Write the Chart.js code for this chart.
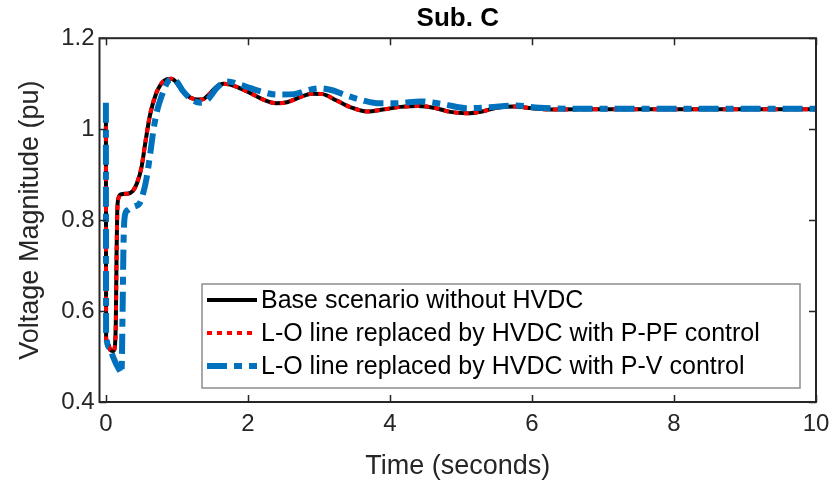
<!DOCTYPE html>
<html>
<head>
<meta charset="utf-8">
<script src="https://cdn.jsdelivr.net/npm/chart.js@4/dist/chart.umd.min.js"></script>
<style>
html,body{margin:0;padding:0;background:#fff;}
#wrap{position:relative;width:832px;height:483px;}
</style>
</head>
<body>
<div id="wrap"><canvas id="c" width="832" height="483"></canvas></div>
<script>
// ---- data ----
const chartTitle = "Sub. C";
const xAxisTitle = "Time (seconds)";
const yAxisTitle = "Voltage Magnitude (pu)";
const seriesLabels = [
  "Base scenario without HVDC",
  "L-O line replaced by HVDC with P-PF control",
  "L-O line replaced by HVDC with P-V control"
];
const xTickValues = [0, 2, 4, 6, 8, 10];
const xTickLabels = ["0", "2", "4", "6", "8", "10"];
const yTickValues = [0.4, 0.6, 0.8, 1.0, 1.2];
const yTickLabels = ["0.4", "0.6", "0.8", "1", "1.2"];

const timeBase = [0, 0.003, 0.03, 0.06, 0.1, 0.125, 0.14, 0.15, 0.16, 0.18, 0.22, 0.3, 0.38, 0.44, 0.5, 0.56, 0.62, 0.7, 0.78, 0.86, 0.92, 0.98, 1.06, 1.15, 1.25, 1.35, 1.45, 1.55, 1.65, 1.75, 1.9, 2.05, 2.2, 2.4, 2.55, 2.7, 2.9, 3.05, 3.25, 3.45, 3.68, 3.9, 4.15, 4.4, 4.65, 4.85, 5.08, 5.3, 5.5, 5.75, 6.0, 6.3, 7, 8, 9, 10];
const voltBase = [1.05, 0.54, 0.528, 0.515, 0.512, 0.52, 0.58, 0.72, 0.82, 0.85, 0.857, 0.858, 0.864, 0.882, 0.915, 0.975, 1.03, 1.075, 1.1, 1.11, 1.111, 1.105, 1.088, 1.073, 1.066, 1.065, 1.076, 1.092, 1.1, 1.098, 1.089, 1.078, 1.066, 1.057, 1.059, 1.068, 1.078, 1.077, 1.063, 1.048, 1.039, 1.043, 1.049, 1.051, 1.046, 1.038, 1.035, 1.039, 1.047, 1.05, 1.046, 1.043, 1.044, 1.044, 1.044, 1.044];
const voltPPF  = [1.05, 0.54, 0.527, 0.514, 0.511, 0.52, 0.57, 0.71, 0.815, 0.849, 0.857, 0.858, 0.864, 0.883, 0.916, 0.976, 1.031, 1.076, 1.1, 1.11, 1.111, 1.105, 1.088, 1.073, 1.066, 1.065, 1.076, 1.092, 1.1, 1.098, 1.089, 1.078, 1.066, 1.057, 1.059, 1.068, 1.078, 1.077, 1.063, 1.048, 1.039, 1.043, 1.049, 1.051, 1.046, 1.038, 1.035, 1.039, 1.047, 1.05, 1.046, 1.043, 1.044, 1.044, 1.044, 1.044];

const timePV = [0, 0.003, 0.05, 0.1, 0.15, 0.2, 0.22, 0.235, 0.25, 0.27, 0.31, 0.36, 0.42, 0.48, 0.53, 0.57, 0.61, 0.67, 0.72, 0.79, 0.87, 0.94, 1.0, 1.08, 1.17, 1.27, 1.35, 1.45, 1.57, 1.71, 1.85, 2.04, 2.2, 2.41, 2.65, 2.85, 3.02, 3.2, 3.35, 3.6, 3.82, 4.1, 4.43, 4.75, 5.09, 5.4, 5.75, 6.1, 6.5, 7, 8, 9, 10];
const voltPV = [1.058, 0.55, 0.52, 0.5, 0.482, 0.468, 0.463, 0.6, 0.76, 0.812, 0.822, 0.828, 0.831, 0.838, 0.862, 0.89, 0.93, 0.998, 1.04, 1.075, 1.104, 1.11, 1.104, 1.085, 1.07, 1.06, 1.058, 1.068, 1.092, 1.105, 1.1, 1.09, 1.082, 1.076, 1.077, 1.086, 1.09, 1.085, 1.076, 1.064, 1.057, 1.057, 1.061, 1.055, 1.046, 1.048, 1.052, 1.047, 1.045, 1.045, 1.045, 1.045, 1.045];

const xMin = -0.09, xMax = 10, yMin = 0.4, yMax = 1.2;

// ---- build ----
const toPts = (xs, ys) => xs.map((x, i) => ({x: x, y: ys[i]}));
const AXIS_COLOR = '#262626';
const FONT = "'Liberation Sans', Arial, Helvetica, sans-serif";

const datasets = [
  {label: seriesLabels[0], data: toPts(timeBase, voltBase), borderColor: '#000000', borderWidth: 4, borderDash: [], order: 3},
  {label: seriesLabels[1], data: toPts(timeBase, voltPPF), borderColor: '#ff0000', borderWidth: 4, borderDash: [5, 5], order: 2},
  {label: seriesLabels[2], data: toPts(timePV, voltPV), borderColor: '#0072bd', borderWidth: 6, borderDash: [20, 7, 8, 7], order: 1}
].map(d => Object.assign(d, {pointRadius: 0, fill: false, cubicInterpolationMode: 'monotone', borderCapStyle: 'butt', borderJoinStyle: 'round', backgroundColor: d.borderColor}));

const axesBox = {
  id: 'axesBox',
  afterDatasetsDraw(chart) {
    const {ctx, chartArea: a, scales} = chart;
    ctx.save();
    ctx.strokeStyle = AXIS_COLOR;
    ctx.lineWidth = 2;
    ctx.strokeRect(a.left, a.top, a.right - a.left, a.bottom - a.top);
    ctx.lineWidth = 1.5;
    const L = 7;
    ctx.beginPath();
    xTickValues.forEach(v => {
      const px = Math.round(scales.x.getPixelForValue(v)) + 0.5;
      ctx.moveTo(px, a.bottom); ctx.lineTo(px, a.bottom - L);
      ctx.moveTo(px, a.top); ctx.lineTo(px, a.top + L);
    });
    yTickValues.forEach(v => {
      const py = Math.round(scales.y.getPixelForValue(v)) + 0.5;
      ctx.moveTo(a.left, py); ctx.lineTo(a.left + L, py);
      ctx.moveTo(a.right, py); ctx.lineTo(a.right - L, py);
    });
    ctx.stroke();
    ctx.restore();
  }
};

const boxLegend = {
  id: 'boxLegend',
  afterDraw(chart) {
    const {ctx} = chart;
    const x0 = 202, y0 = 284, w = 598, h = 104;
    ctx.save();
    ctx.fillStyle = '#ffffff';
    ctx.fillRect(x0, y0, w, h);
    ctx.strokeStyle = '#8c8c8c';
    ctx.lineWidth = 1.5;
    ctx.strokeRect(x0, y0, w, h);
    ctx.font = "25px " + FONT;
    ctx.textBaseline = 'middle';
    ctx.fillStyle = '#000000';
    chart.data.datasets.forEach((ds, i) => {
      const yy = y0 + 16 + i * 33;
      ctx.save();
      ctx.strokeStyle = ds.borderColor;
      ctx.lineWidth = ds.borderWidth;
      ctx.setLineDash(ds.borderDash || []);
      ctx.lineCap = 'butt';
      ctx.beginPath();
      ctx.moveTo(x0 + 5, yy); ctx.lineTo(x0 + 55, yy);
      ctx.stroke();
      ctx.restore();
      ctx.fillText(ds.label, x0 + 59, yy + 1);
    });
    ctx.restore();
  }
};

new Chart(document.getElementById('c'), {
  type: 'line',
  data: {datasets: datasets},
  plugins: [axesBox, boxLegend],
  options: {
    responsive: false,
    animation: false,
    events: [],
    layout: {padding: {left: 0, right: 16, top: 0, bottom: 0}},
    plugins: {
      legend: {display: false},
      tooltip: {enabled: false},
      title: {display: true, fullSize: false, text: chartTitle, color: '#000000', font: {family: FONT, size: 26, weight: 'bold'}, padding: {top: 3, bottom: 4}}
    },
    scales: {
      x: {
        type: 'linear', min: xMin, max: xMax,
        afterBuildTicks: s => { s.ticks = xTickValues.map(v => ({value: v})); },
        afterFit: s => { s.height = 81; s.paddingRight = 0; s.paddingLeft = 0; },
        grid: {display: false, drawTicks: false},
        border: {display: false},
        ticks: {color: AXIS_COLOR, font: {family: FONT, size: 24}, padding: 8, maxRotation: 0,
                callback: (v) => { const i = xTickValues.indexOf(v); return i >= 0 ? xTickLabels[i] : ''; }},
        title: {display: true, text: xAxisTitle, color: AXIS_COLOR, font: {family: FONT, size: 27}, padding: {top: 0, bottom: 0}}
      },
      y: {
        type: 'linear', min: yMin, max: yMax,
        afterBuildTicks: s => { s.ticks = yTickValues.map(v => ({value: v})); },
        afterFit: s => { s.width = 99.5; },
        grid: {display: false, drawTicks: false},
        border: {display: false},
        ticks: {color: AXIS_COLOR, font: {family: FONT, size: 24}, padding: 5,
                callback: (v) => { const i = yTickValues.findIndex(t => Math.abs(t - v) < 1e-9); return i >= 0 ? yTickLabels[i] : ''; }},
        title: {display: true, text: yAxisTitle, color: AXIS_COLOR, font: {family: FONT, size: 27}, padding: {top: 14, bottom: 0}}
      }
    }
  }
});
</script>
</body>
</html>
